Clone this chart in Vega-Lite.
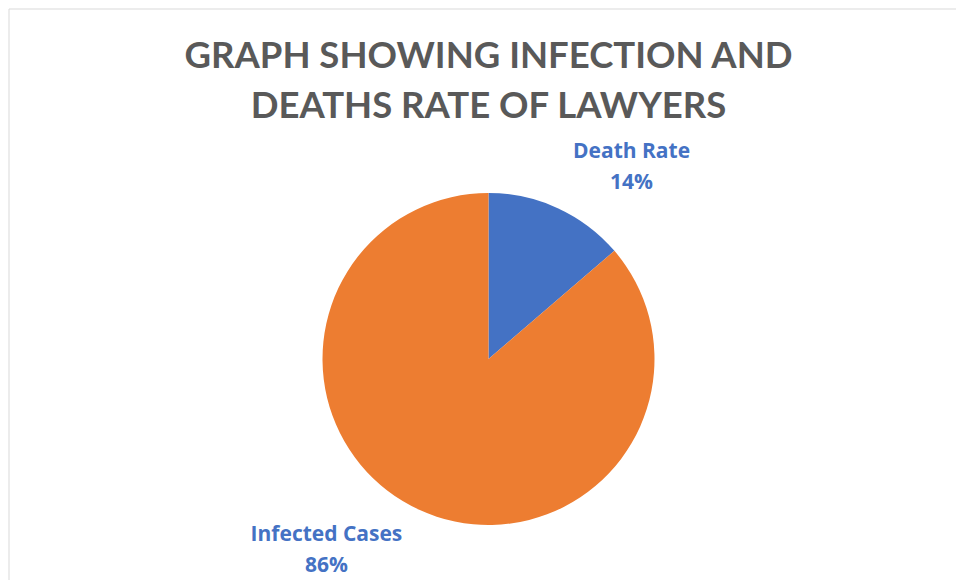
{
  "$schema": "https://vega.github.io/schema/vega-lite/v6.json",
  "autosize": "none",
  "padding": {"left": 8.5, "top": 8.5, "right": 0, "bottom": 0},
  "width": 960,
  "height": 701,
  "background": "white",
  "view": {"stroke": "#d9d9d9", "strokeWidth": 1},
  "config": {"view": {"stroke": "#d9d9d9", "strokeWidth": 1}},
  "title": {
    "text": ["GRAPH SHOWING INFECTION AND", "DEATHS RATE OF LAWYERS"],
    "font": "Lato",
    "fontSize": 36.5,
    "fontWeight": "bold",
    "color": "#595959",
    "anchor": "middle",
    "lineHeight": 50,
    "offset": -117
  },
  "data": {
    "values": [
      {"category": "Death Rate", "value": 13.7},
      {"category": "Infected Cases", "value": 86.3}
    ]
  },
  "transform": [
    {"calculate": "datum.category + '\\n' + format(datum.value, '.0f') + '%'", "as": "label"}
  ],
  "encoding": {
    "theta": {"field": "value", "type": "quantitative", "stack": true},
    "color": {
      "field": "category",
      "type": "nominal",
      "scale": {"domain": ["Death Rate", "Infected Cases"], "range": ["#4472C4", "#ED7D31"]},
      "legend": null
    }
  },
  "layer": [
    {"mark": {"type": "arc", "outerRadius": 166}},
    {
      "mark": {"type": "text", "radius": 211, "dx": 55, "dy": -15.5, "font": "Open Sans", "fontSize": 21, "fontWeight": "bold", "lineBreak": "\n", "lineHeight": 31, "align": "center", "baseline": "middle"},
      "encoding": {
        "text": {"condition": {"test": "datum.category == 'Death Rate'", "field": "label"}, "value": ""},
        "color": {"value": "#4472C4"}
      }
    },
    {
      "mark": {"type": "text", "radius": 211, "dx": -74, "dy": -15.5, "font": "Open Sans", "fontSize": 21, "fontWeight": "bold", "lineBreak": "\n", "lineHeight": 31, "align": "center", "baseline": "middle"},
      "encoding": {
        "text": {"condition": {"test": "datum.category == 'Infected Cases'", "field": "label"}, "value": ""},
        "color": {"value": "#4472C4"}
      }
    }
  ]
}
